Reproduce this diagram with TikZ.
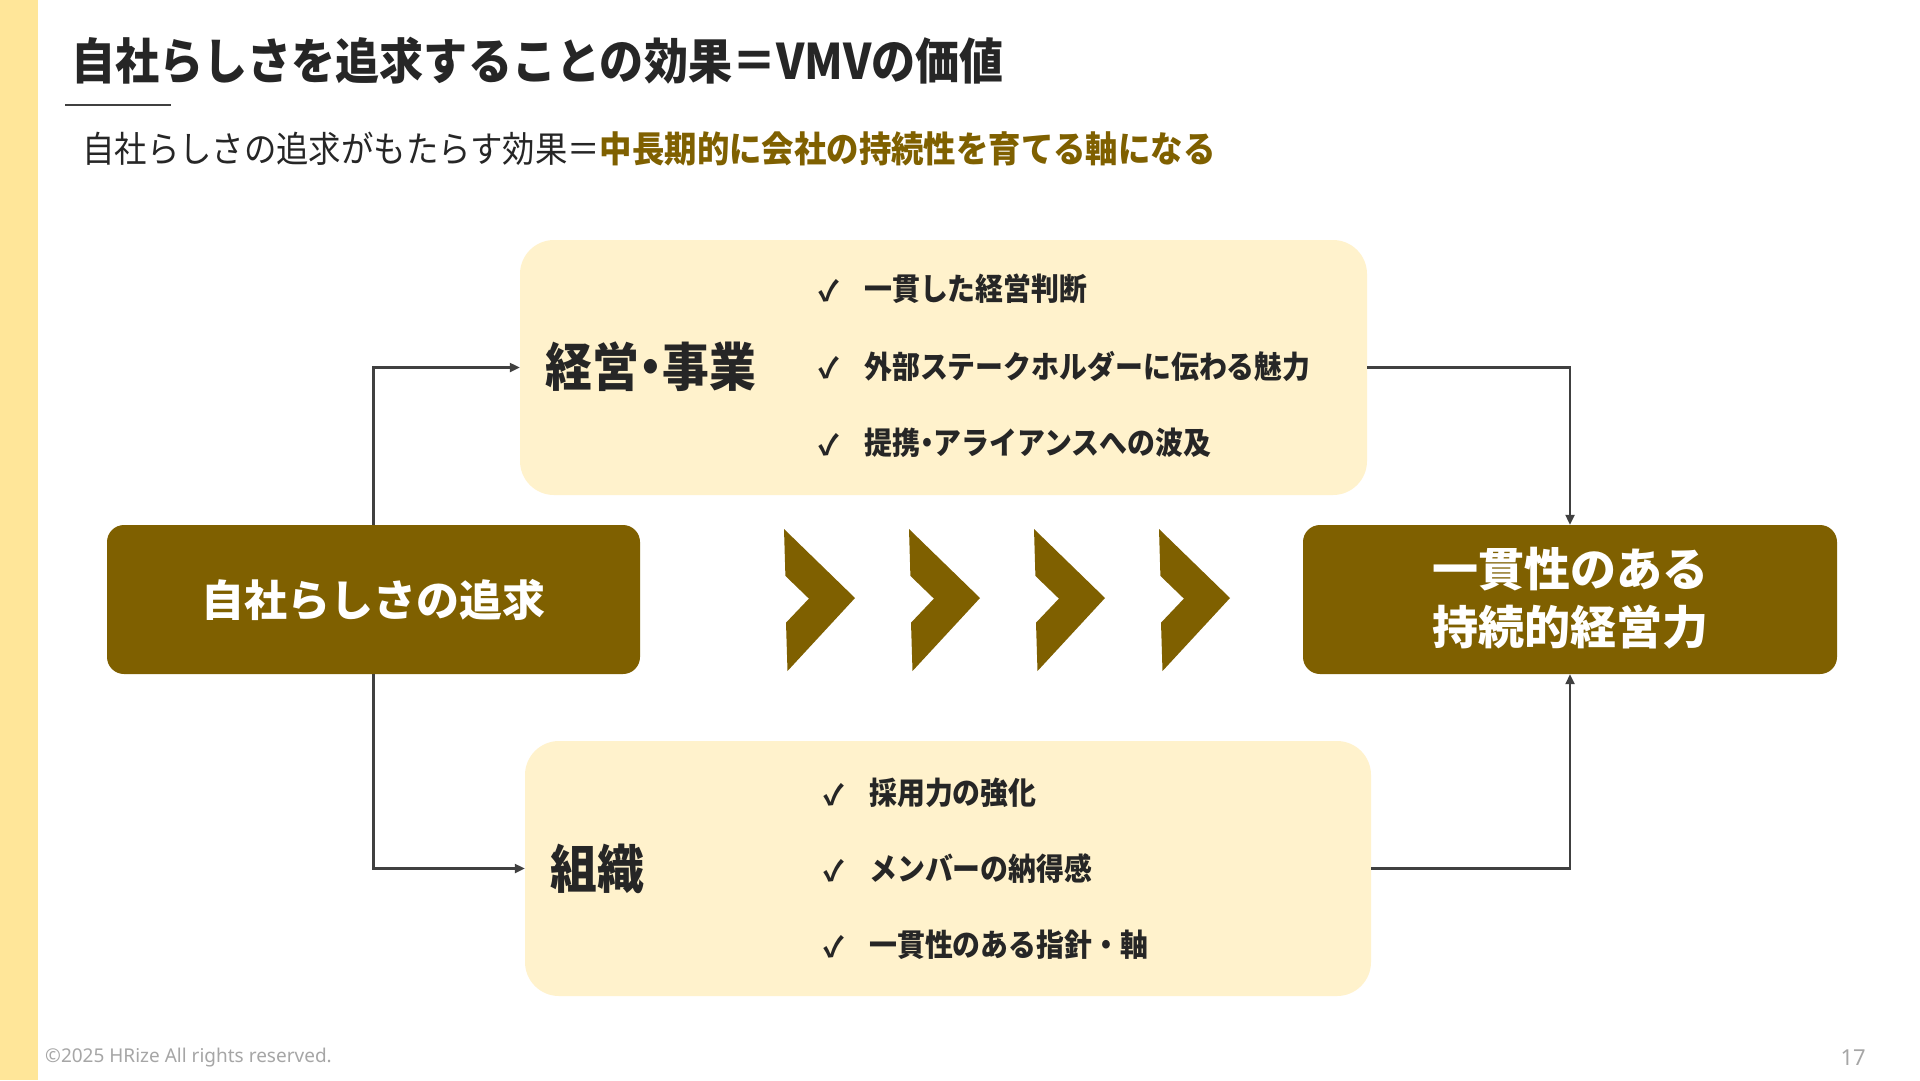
\documentclass[tikz,border=0pt]{standalone}
\usepackage{fontspec}
\usetikzlibrary{arrows.meta}
\setmainfont{Noto Sans CJK JP}
\newfontfamily\jpc[FakeStretch=0.9]{Noto Sans CJK JP}
\newfontfamily\jpn{Noto Sans CJK JP}
\newfontfamily\nsans{Noto Sans}
\newcommand\pdot{{\addfontfeature{RawFeature=+palt}・}}
\definecolor{gold}{HTML}{7F6000}
\definecolor{cream}{HTML}{FFF2CC}
\definecolor{stripe}{HTML}{FFE699}
\definecolor{ink}{HTML}{262626}
\definecolor{linec}{HTML}{404040}
\definecolor{footc}{HTML}{A6A6A6}
\begin{document}
\begin{tikzpicture}[x=1pt,y=-1pt,
  lbl/.style={inner sep=0pt, anchor=west, text=ink},
  softbox/.style={fill=cream, draw=none, rounded corners=34, rectangle},
  darkbox/.style={fill=gold, draw=none, rounded corners=17, rectangle, minimum width=534, minimum height=149},
  boxlabel/.style={lbl, font=\jpc\bfseries\fontsize{52}{60}\selectfont},
  item/.style={lbl, font=\jpc\bfseries\fontsize{31}{36}\selectfont},
  chk/.style={inner sep=0pt, text=ink, font=\jpn\bfseries\fontsize{28}{32}\selectfont},
  conn/.style={draw=linec, line width=2.2, -{Triangle[length=10,width=9]}}]
\useasboundingbox (0,0) rectangle (1920,1080);
\fill[white] (0,0) rectangle (1920,1080);
\fill[stripe] (0,0) rectangle (38,1080);

% title
\node[lbl, font=\jpc\bfseries\fontsize{49}{58}\selectfont] (title) at (71,61) {自社らしさを追求することの効果＝VMVの価値};
\draw[linec, line width=1.5] (65,105) -- (171,105);
\node[lbl, font=\jpc\fontsize{36}{42}\selectfont] (sub) at (82,149) {自社らしさの追求がもたらす効果＝{\bfseries\color{gold}中長期的に会社の持続性を育てる軸になる}};

% soft boxes
\node[softbox, minimum width=847, minimum height=255] (tbox) at (943.5,367.5) {};
\node[softbox, minimum width=846, minimum height=255] (bbox) at (948,868.5) {};

\node[boxlabel] (tlabel) at (545,367) {経営\pdot 事業};
\node[chk] (tc1) at (829,291) {✓};
\node[chk] (tc2) at (829,368) {✓};
\node[chk] (tc3) at (829,445) {✓};
\node[item] (ti1) at (864,289) {一貫した経営判断};
\node[item] (ti2) at (864,366) {外部ステークホルダーに伝わる魅力};
\node[item] (ti3) at (864,443) {提携\pdot アライアンスへの波及};

\node[boxlabel] (blabel) at (550,869) {組織};
\node[chk] (bc1) at (834,795) {✓};
\node[chk] (bc2) at (834,871) {✓};
\node[chk] (bc3) at (834,947) {✓};
\node[item] (bi1) at (869,793) {採用力の強化};
\node[item] (bi2) at (869,869) {メンバーの納得感};
\node[item] (bi3) at (869,945) {一貫性のある指針・軸};

% dark boxes
\node[darkbox, minimum width=533] (lbox) at (373.5,599.5) {};
\node[text=white, inner sep=0pt, font=\jpn\bfseries\fontsize{43}{50}\selectfont] (ltext) at (373.5,599.5) {自社らしさの追求};
\node[darkbox] (rbox) at (1570,599.5) {};
\node[text=white, inner sep=0pt, align=center, font=\jpn\bfseries\fontsize{46}{58}\selectfont] (rtext) at (1570,598) {一貫性のある\\持続的経営力};

% chevrons
\foreach \dx in {0,125,250,375}
  \fill[gold, shift={(\dx,0)}] (784,529) -- (855,598) -- (787.5,671) -- (786,622.7) -- (808.9,598.6) -- (785.4,575.9) -- cycle;

% connectors
\draw[conn] (lbox.north) |- (tbox.west);
\draw[conn] (lbox.south) |- (bbox.west);
\draw[conn] (tbox.east) -| (rbox.north);
\draw[conn] (bbox.east) -| (rbox.south);

% footer
\node[anchor=west, inner sep=0pt, text=footc, font=\nsans\fontsize{19}{22}\selectfont] (copy) at (45,1058) {©2025 HRize All rights reserved.};
\node[anchor=east, inner sep=0pt, text=footc, font=\nsans\fontsize{22}{26}\selectfont] (pg) at (1866,1058) {17};
\end{tikzpicture}
\end{document}
